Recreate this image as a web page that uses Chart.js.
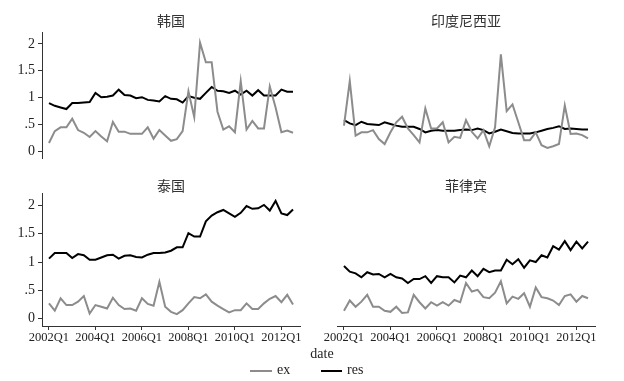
<!DOCTYPE html>
<html>
<head>
<meta charset="utf-8">
<script src="https://cdn.jsdelivr.net/npm/chart.js@4/dist/chart.umd.min.js"></script>
<style>
  html, body { margin: 0; padding: 0; background: #fff; }
  body { width: 624px; height: 381px; position: relative; overflow: hidden; }
  .panel { position: absolute; }
  .ptitle { position: absolute; font-family: "Noto Sans CJK SC", sans-serif; font-size: 14px; color: #333; transform: translateX(-50%); white-space: nowrap; line-height: 1; }
  .lbl { position: absolute; font-family: "Liberation Serif", "DejaVu Serif", serif; font-size: 14px; color: #222; line-height: 1; white-space: nowrap; }
  .sw { position: absolute; height: 2px; }
</style>
</head>
<body>
<div class="panel" style="left:0;top:0;width:310px;height:170px"><canvas id="c1"></canvas></div>
<div class="panel" style="left:312px;top:0;width:293px;height:170px"><canvas id="c2"></canvas></div>
<div class="panel" style="left:0;top:160px;width:310px;height:200px"><canvas id="c3"></canvas></div>
<div class="panel" style="left:312px;top:160px;width:293px;height:200px"><canvas id="c4"></canvas></div>

<div class="ptitle" style="left:171px;top:13px">韩国</div>
<div class="ptitle" style="left:466px;top:13px">印度尼西亚</div>
<div class="ptitle" style="left:171px;top:178px">泰国</div>
<div class="ptitle" style="left:466px;top:178px">菲律宾</div>

<div class="lbl" style="left:322px;top:347px;transform:translateX(-50%)">date</div>
<div class="sw" style="left:250px;top:370px;width:22px;background:#8c8c8c"></div>
<div class="lbl" style="left:277px;top:363px">ex</div>
<div class="sw" style="left:321px;top:370px;width:21px;background:#000"></div>
<div class="lbl" style="left:347px;top:363px">res</div>

<script>
// Quarters 2002Q1 .. 2012Q3
const quarters = [];
for (let y = 2002; y <= 2012; y++) for (let q = 1; q <= 4; q++) quarters.push(y + 'Q' + q);
quarters.length = 43;

const xTickLabels = ['2002Q1', '2004Q1', '2006Q1', '2008Q1', '2010Q1', '2012Q1'];
const yTickValues = [0, 0.5, 1, 1.5, 2];

const koreaEx = [0.16,0.38,0.45,0.45,0.61,0.40,0.35,0.27,0.38,0.28,0.19,0.55,0.37,0.37,0.33,0.33,0.33,0.45,0.24,0.40,0.30,0.20,0.23,0.38,1.12,0.64,2.02,1.66,1.66,0.74,0.41,0.47,0.36,1.31,0.41,0.57,0.43,0.43,1.21,0.82,0.36,0.39,0.35];
const koreaRes = [0.90,0.85,0.82,0.79,0.90,0.90,0.91,0.92,1.09,1.01,1.02,1.04,1.15,1.05,1.04,0.99,1.01,0.96,0.95,0.93,1.03,0.98,0.97,0.91,1.03,1.00,0.98,1.09,1.20,1.13,1.12,1.09,1.13,1.06,1.13,1.04,1.14,1.04,1.04,1.04,1.15,1.11,1.11];

const indoEx = [0.54,1.34,0.36,0.42,0.42,0.46,0.30,0.21,0.42,0.60,0.70,0.49,0.37,0.24,0.85,0.49,0.49,0.60,0.24,0.34,0.32,0.64,0.43,0.31,0.46,0.17,0.51,1.82,0.80,0.92,0.60,0.28,0.28,0.42,0.19,0.14,0.17,0.21,0.90,0.39,0.40,0.37,0.31];
const indoRes = [0.64,0.58,0.55,0.61,0.57,0.56,0.55,0.60,0.57,0.54,0.52,0.52,0.52,0.48,0.42,0.45,0.46,0.45,0.45,0.45,0.46,0.47,0.46,0.49,0.46,0.40,0.43,0.47,0.44,0.41,0.40,0.40,0.40,0.42,0.45,0.48,0.50,0.53,0.48,0.49,0.48,0.47,0.47];

const thaiEx = [0.27,0.14,0.36,0.24,0.24,0.30,0.40,0.09,0.24,0.21,0.18,0.37,0.24,0.17,0.18,0.14,0.36,0.26,0.23,0.65,0.21,0.12,0.08,0.15,0.27,0.38,0.36,0.43,0.30,0.23,0.17,0.11,0.15,0.15,0.27,0.17,0.17,0.27,0.35,0.40,0.29,0.42,0.25];
const thaiRes = [1.06,1.16,1.16,1.16,1.07,1.14,1.12,1.04,1.04,1.08,1.12,1.13,1.06,1.11,1.12,1.09,1.08,1.13,1.16,1.16,1.17,1.20,1.26,1.26,1.51,1.45,1.45,1.72,1.82,1.88,1.92,1.86,1.80,1.87,1.99,1.94,1.95,2.01,1.91,2.08,1.86,1.83,1.93];

const philEx = [0.14,0.32,0.21,0.30,0.42,0.21,0.21,0.14,0.12,0.21,0.10,0.11,0.42,0.29,0.18,0.29,0.23,0.29,0.23,0.33,0.29,0.63,0.48,0.51,0.38,0.36,0.46,0.66,0.27,0.39,0.35,0.45,0.21,0.55,0.38,0.36,0.32,0.24,0.40,0.43,0.30,0.40,0.36];
const philRes = [0.93,0.83,0.80,0.73,0.82,0.78,0.79,0.73,0.79,0.73,0.71,0.63,0.70,0.70,0.75,0.63,0.75,0.73,0.73,0.64,0.76,0.73,0.85,0.75,0.88,0.82,0.85,0.85,1.04,0.96,1.05,0.90,1.03,1.00,1.12,1.08,1.28,1.22,1.37,1.21,1.36,1.24,1.36];

const EX_COLOR = '#8c8c8c';
const RES_COLOR = '#000000';
const AXIS_COLOR = '#333333';
const SERIF = '"Liberation Serif", "DejaVu Serif", serif';

function toPoints(arr) { return arr.map((v, i) => ({ x: i, y: v })); }

function makeChart(id, ex, res, showY, showX, pad) {
  const ctx = document.getElementById(id);
  return new Chart(ctx, {
    type: 'line',
    data: {
      datasets: [
        { label: 'ex', data: toPoints(ex), borderColor: EX_COLOR, borderWidth: 2, pointRadius: 0, fill: false, tension: 0 },
        { label: 'res', data: toPoints(res), borderColor: RES_COLOR, borderWidth: 2, pointRadius: 0, fill: false, tension: 0 }
      ]
    },
    options: {
      responsive: true,
      maintainAspectRatio: false,
      animation: false,
      layout: { padding: pad },
      plugins: { legend: { display: false }, title: { display: false }, tooltip: { enabled: false } },
      scales: {
        x: {
          type: 'linear',
          min: -1.2,
          max: 43.2,
          display: showX,
          afterBuildTicks: ax => { ax.ticks = xTickLabels.map(l => ({ value: quarters.indexOf(l) })); },
          afterFit: ax => { if (showX) ax.height = 34; },
          ticks: {
            autoSkip: false, maxRotation: 0, minRotation: 0, padding: 0,
            color: '#222', font: { family: SERIF, size: 12.5 },
            callback: v => quarters[v]
          },
          grid: { display: true, drawOnChartArea: false, drawTicks: true, tickLength: 4, color: AXIS_COLOR, lineWidth: 1 },
          border: { display: true, color: AXIS_COLOR, width: 1 }
        },
        y: {
          type: 'linear',
          min: -0.13,
          max: 2.22,
          display: showY,
          afterBuildTicks: ax => { ax.ticks = yTickValues.map(v => ({ value: v })); },
          afterFit: ax => { if (showY) ax.width = 42; },
          ticks: {
            padding: 3, color: '#222', font: { family: SERIF, size: 14 },
            callback: v => (v === 0 ? '0' : String(v).replace(/^0\./, '.'))
          },
          grid: { display: true, drawOnChartArea: false, drawTicks: true, tickLength: 4, color: AXIS_COLOR, lineWidth: 1 },
          border: { display: true, color: AXIS_COLOR, width: 1 }
        }
      }
    }
  });
}

makeChart('c1', koreaEx, koreaRes, true, false, { top: 32, right: 10, bottom: 7, left: 0 });
makeChart('c2', indoEx, indoRes, false, false, { top: 32, right: 10, bottom: 7, left: 25 });
makeChart('c3', thaiEx, thaiRes, true, true, { top: 33, right: 10, bottom: 0, left: 0 });
makeChart('c4', philEx, philRes, false, true, { top: 33, right: 10, bottom: 0, left: 25 });
</script>
</body>
</html>
